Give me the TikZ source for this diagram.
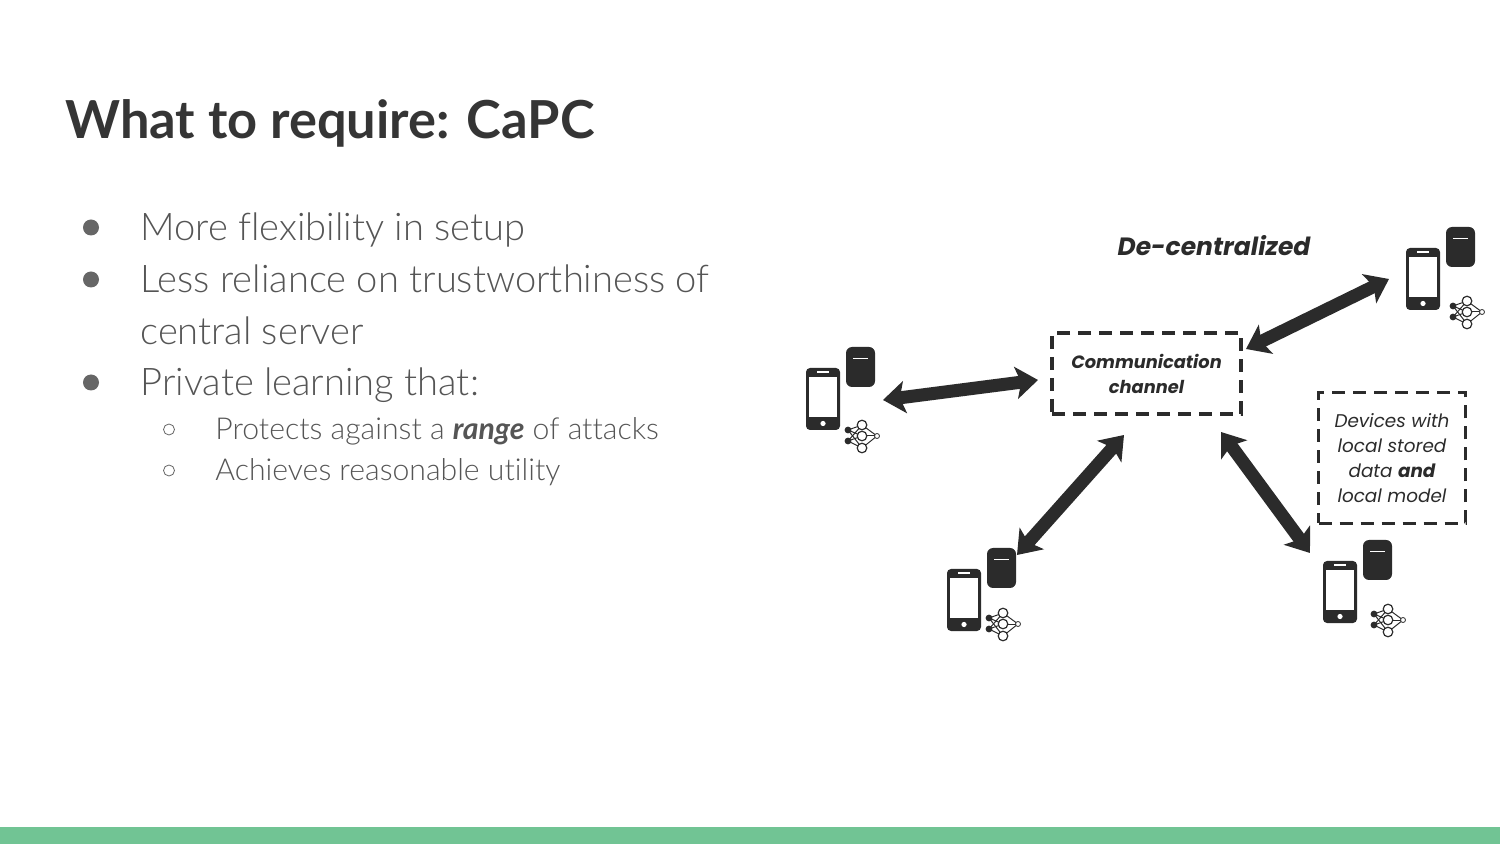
\documentclass[tikz,border=0pt]{standalone}
\usepackage{fontspec}
\setmainfont[Ligatures=NoCommon]{Lato}
\newfontfamily\bodyfont[Ligatures=NoCommon,UprightFont=* Light,ItalicFont=* Light Italic,BoldFont=*,BoldItalicFont=* Bold Italic]{Lato}
\newfontfamily\diagfont{Poppins}
\usetikzlibrary{
    arrows.meta,
    positioning
}
\definecolor{titlegray}{HTML}{353535}
\definecolor{bodygray}{HTML}{666666}
\definecolor{bodytext}{HTML}{555555}
\definecolor{icondark}{HTML}{2B2B2B}
\definecolor{bargreen}{HTML}{71C494}
\tikzset{
    % Text
    slide title/.style={anchor=base west,inner sep=0pt,text=titlegray,font=\fontsize{26.2}{30}\selectfont\bfseries},
    main item/.style={anchor=base west,inner sep=0pt,text=bodytext,font=\bodyfont\fontsize{19.05}{22}\selectfont},
    sub item/.style={anchor=base west,inner sep=0pt,text=bodytext,font=\bodyfont\fontsize{15.1}{18}\selectfont},
    main bullet/.style={circle,inner sep=0pt,minimum size=8pt,fill=bodygray},
    sub bullet/.style={circle,inner sep=0pt,minimum size=5.5pt,draw=bodygray,line width=.4pt},
    %
    % Boxes
    dashed box/.style={draw=icondark,line width=1.9pt,dash pattern=on 6.5pt off 4pt,align=center,inner sep=0pt,text=icondark},
    box text/.style={font=\diagfont\itshape\fontsize{9.2}{12.5}\selectfont},
    %
    % Arrows
    arrow head/.tip={Stealth[length=11pt,width=16pt,inset=2.5pt]},
    big arrow/.style={{arrow head}-{arrow head},draw=icondark,line width=6.5pt},
    %
    % Device icons
    device/.pic={
        \fill[icondark,rounded corners=2pt] (0,0) rectangle (34,62);
        \fill[white] (3,9) rectangle (31,49);
        \fill[white] (11,3.5) rectangle (23,5.5);
        \fill[white] (17,55.5) circle (2.6);
        % data store
        \fill[icondark,rounded corners=3pt] (40,-21) rectangle (69,19);
        \fill[white] (47,-10) rectangle (62,-8.8);
    },
    network/.pic={
        \foreach \ny in {10,21} {
            \foreach \nz in {5,16,28} {
                \draw[icondark,line width=.5pt] (3,\ny) -- (17,\nz);
            }
            \fill[icondark] (3,\ny) circle (3.4);
        }
        \foreach \nz in {5,16,28} {
            \draw[icondark,line width=.5pt] (17,\nz) -- (32,16);
            \draw[icondark,fill=white,line width=.6pt] (17,\nz) circle (4.8);
        }
        \draw[icondark,fill=white,line width=.4pt] (32,16) circle (2.5);
    }
}

\begin{document}
\begin{tikzpicture}[x=.5pt,y=-.5pt]
    \useasboundingbox (0,0) rectangle (1500,844);
    \fill[bargreen] (0,827) rectangle (1500,844);

    \node[slide title] (title) at (65,139) {What to require: CaPC};

    \node[main bullet] (b1) at (91,227.5) {};
    \node[main item] (t1) at (140,240.5) {More flexibility in setup};
    \node[main bullet] (b2) at (91,279.5) {};
    \node[main item] (t2) at (140,292.5) {Less reliance on trustworthiness of};
    \node[main item] (t2b) at (140,344.5) {central server};
    \node[main bullet] (b3) at (91,382.5) {};
    \node[main item] (t3) at (140,395.5) {Private learning that:};
    \node[sub bullet] (s1) at (169,429.5) {};
    \node[sub item] (u1) at (215,439.5) {Protects against a \textit{\textbf{range}} of attacks};
    \node[sub bullet] (s2) at (169,470.5) {};
    \node[sub item] (u2) at (215,480.5) {Achieves reasonable utility};

    \node[text=icondark,inner sep=0pt,font=\diagfont\itshape\bfseries\fontsize{12.5}{15}\selectfont] (heading) at (1214,246) {De-centralized};

    \node[dashed box,minimum width=94.5pt,minimum height=40.5pt,font=\diagfont\itshape\bfseries\fontsize{8.9}{12.5}\selectfont] (channel) at (1146.5,373.5) {Communication\\channel};
    \node[dashed box,minimum width=73.5pt,minimum height=65.5pt,box text] (legend) at (1392,458) {Devices with\\local stored\\data \textbf{and}\\local model};

    \pic (devleft) at (806,368) {device};
    \pic (netleft) at (845,420) {network};
    \pic (devtop) at (1406,248) {device};
    \pic (nettop) at (1450,296) {network};
    \pic (devbottom) at (947,569) {device};
    \pic (netbottom) at (986,608) {network};
    \pic (devright) at (1323,561) {device};
    \pic (netright) at (1371,604) {network};

    \coordinate (aL) at (883,400);
    \coordinate (aC) at (1038,380);
    \coordinate (bC) at (1246,349);
    \coordinate (bD) at (1389,279);
    \coordinate (cD) at (1017,555);
    \coordinate (cC) at (1124,435);
    \coordinate (dC) at (1221,432);
    \coordinate (dD) at (1310,553);

    \draw[big arrow] (aL) -- (aC);
    \draw[big arrow] (bC) -- (bD);
    \draw[big arrow] (cD) -- (cC);
    \draw[big arrow] (dC) -- (dD);
\end{tikzpicture}
\end{document}
